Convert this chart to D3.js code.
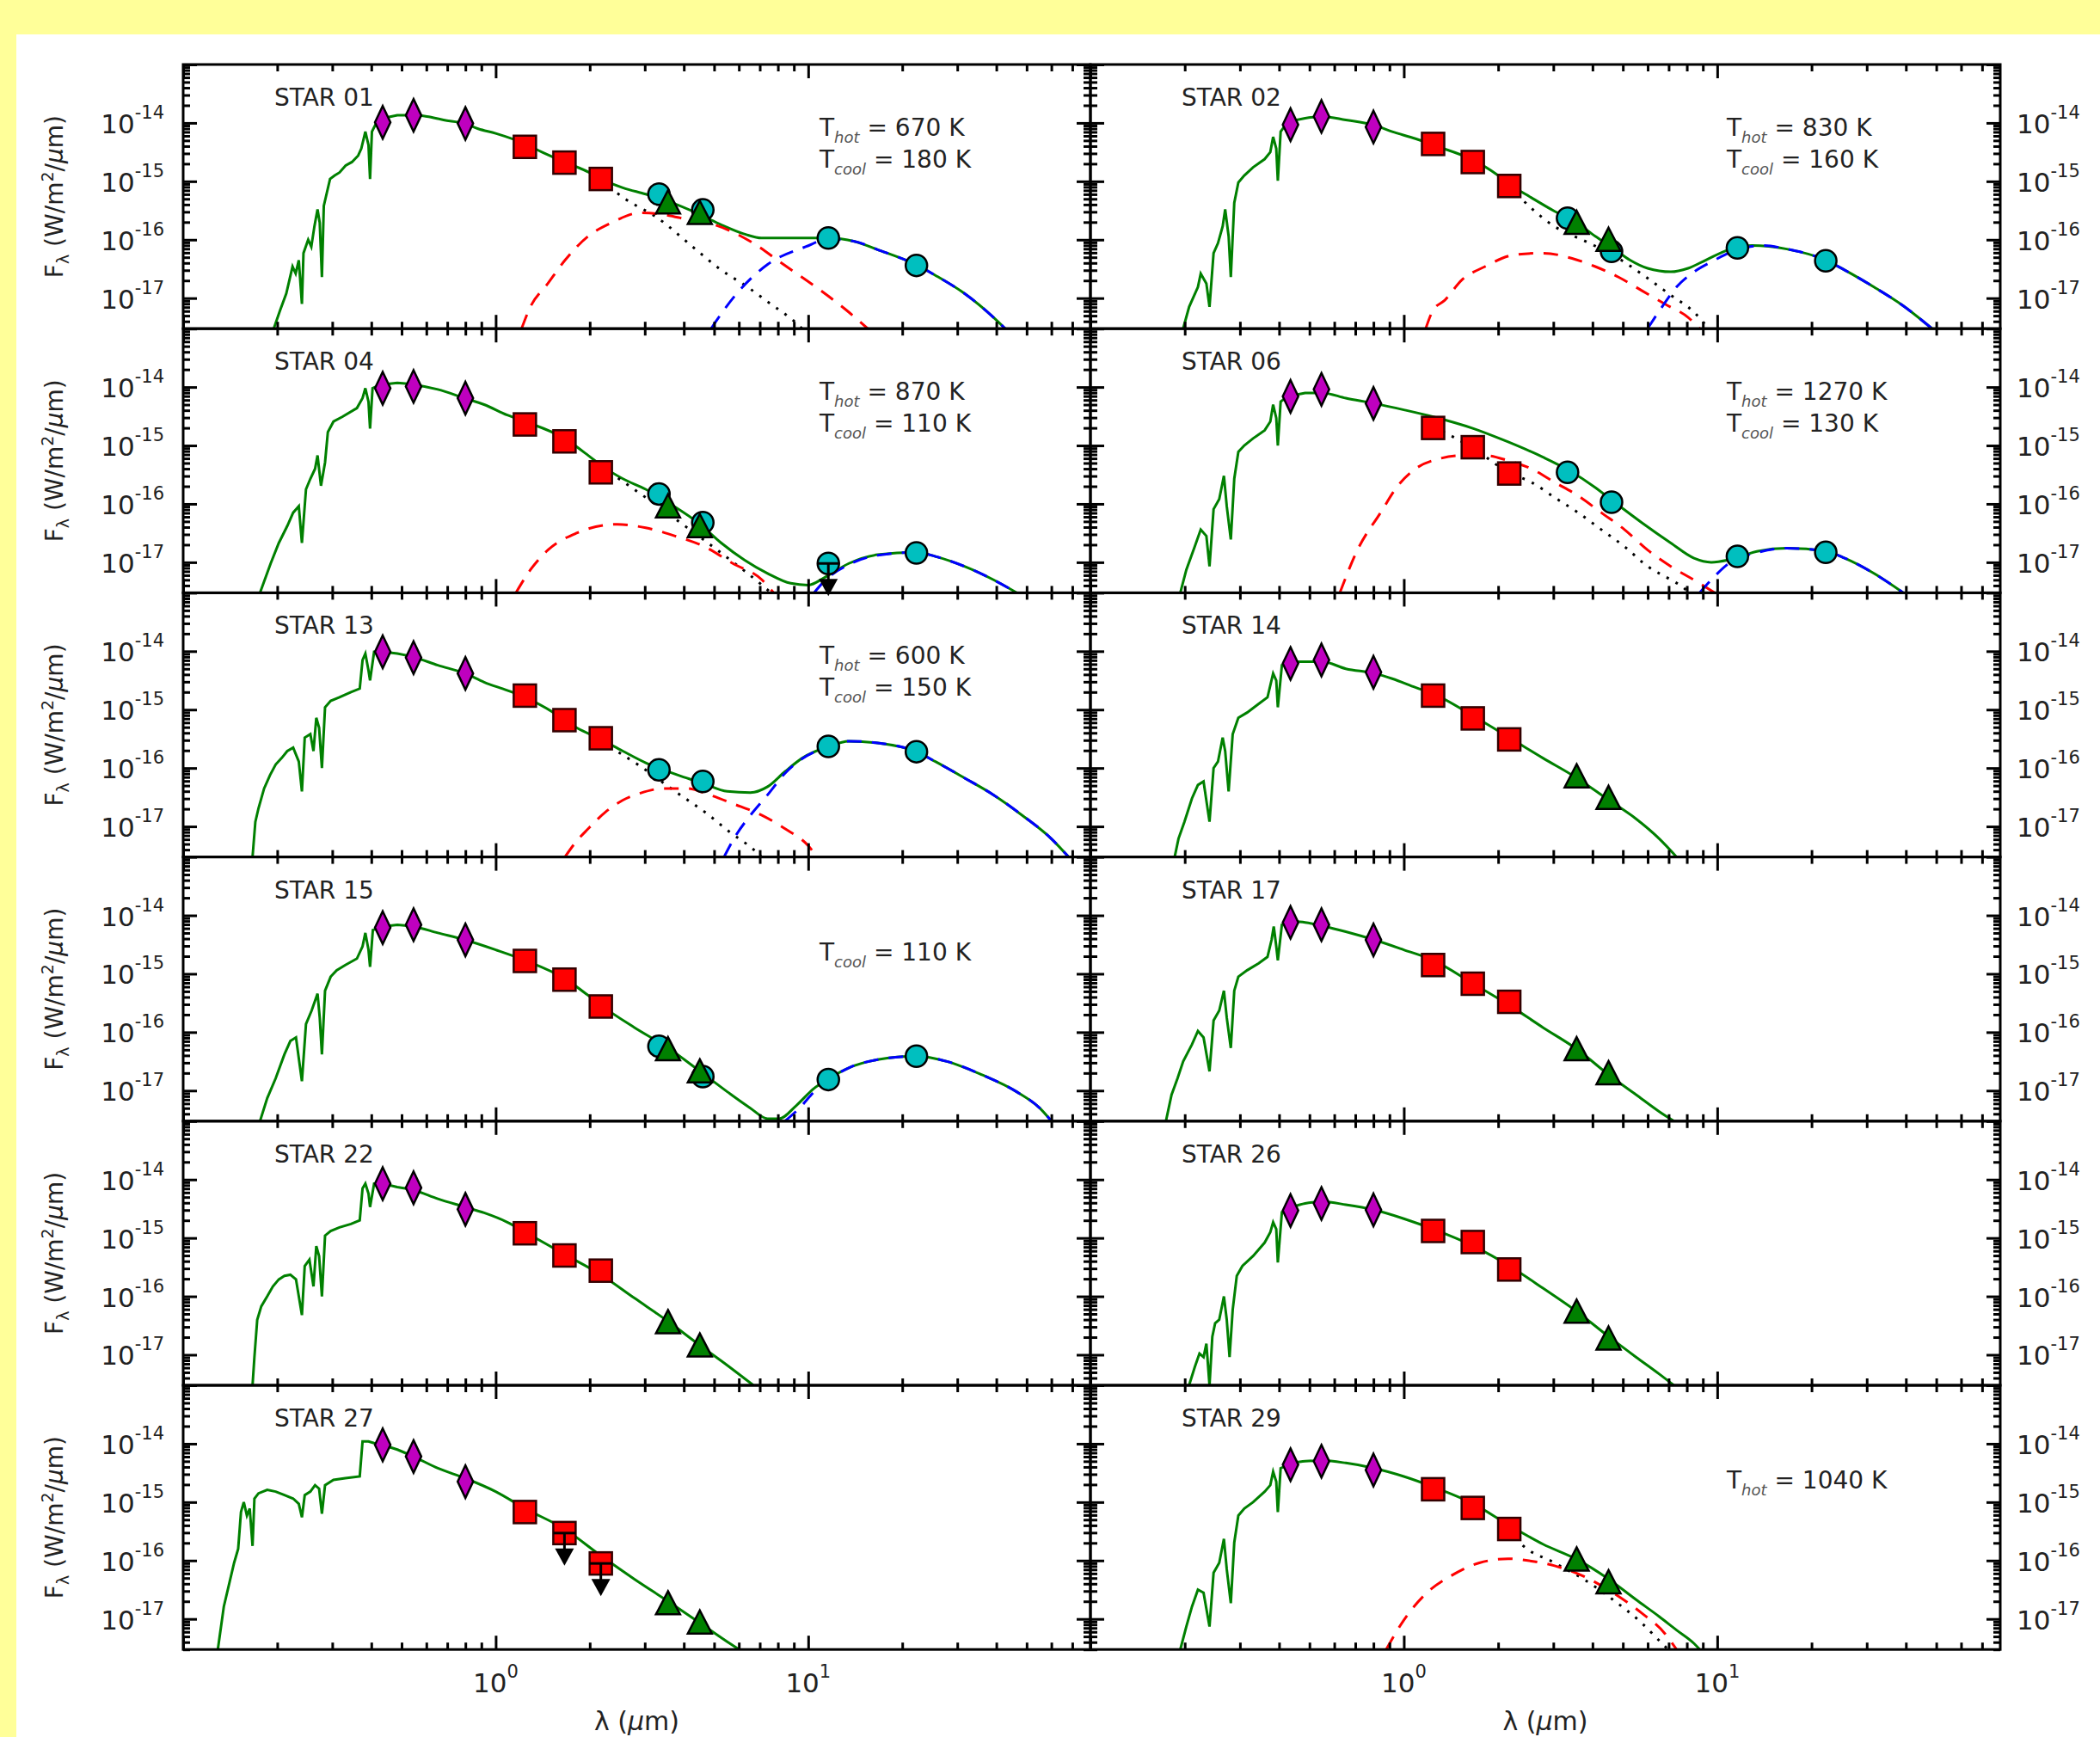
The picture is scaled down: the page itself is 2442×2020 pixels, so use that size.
<!DOCTYPE html>
<html>
<head>
<meta charset="utf-8">
<script src="https://cdn.jsdelivr.net/npm/d3@7"></script>
<style>
  body { margin: 0; background: #ffff99; }
  text { font-family: "DejaVu Sans", sans-serif; fill: #222; }
</style>
</head>
<body>
<script>
// photometric bands, wavelength in μm
let bandNames = ["B", "V", "I", "J", "H", "Ks", "W1", "W2", "W3", "W4", "IRAC1", "IRAC2"]
let bandWave = [0.435, 0.546, 0.80, 1.24, 1.66, 2.17, 3.33, 4.60, 11.6, 22.2, 3.56, 4.50]

// panels: row by row, left then right
let starNames = ["STAR 01", "STAR 02", "STAR 04", "STAR 06", "STAR 13", "STAR 14",
                 "STAR 15", "STAR 17", "STAR 22", "STAR 26", "STAR 27", "STAR 29"]
let tHot  = [670, 830, 870, 1270, 600, null, null, null, null, null, null, 1040]
let tCool = [180, 160, 110, 130, 150, null, 110, null, null, null, null, null]
let upperLimits = [["STAR 04", "W3"], ["STAR 27", "H"], ["STAR 27", "Ks"]]

// log10 F_lambda (W/m2/um) per band, null = no data
let s01Phot = [-13.99, -13.87, -14.01, -14.41, -14.68, -14.96, -15.22, -15.49, -15.97, -16.44, -15.36, -15.54]
let s02Phot = [-14.03, -13.89, -14.07, -14.36, -14.67, -15.08, -15.63, -16.20, -16.14, -16.36, -15.71, -16.00]
let s04Phot = [-14.02, -13.99, -14.19, -14.64, -14.93, -15.46, -15.83, -16.32, -17.02, -16.84, -16.04, -16.38]
let s06Phot = [-14.16, -14.04, -14.28, -14.70, -15.03, -15.48, -15.46, -15.97, -16.90, -16.83, null, null]
let s13Phot = [-14.01, -14.11, -14.38, -14.76, -15.18, -15.49, -16.03, -16.23, -15.63, -15.72, null, null]
let s14Phot = [-14.21, -14.15, -14.36, -14.76, -15.15, -15.51, null, null, null, null, -16.14, -16.51]
let s15Phot = [-14.21, -14.16, -14.42, -14.78, -15.10, -15.56, -16.24, -16.76, -16.81, -16.41, -16.29, -16.67]
let s17Phot = [-14.12, -14.16, -14.42, -14.85, -15.17, -15.48, null, null, null, null, -16.29, -16.70]
let s22Phot = [-14.07, -14.14, -14.51, -14.92, -15.30, -15.56, null, null, null, null, -16.44, -16.84]
let s26Phot = [-14.53, -14.41, -14.52, -14.88, -15.07, -15.54, null, null, null, null, -16.26, -16.72]
let s27Phot = [-14.02, -14.22, -14.65, -15.17, -15.53, -16.05, null, null, null, null, -16.73, -17.06]
let s29Phot = [-14.36, -14.30, -14.45, -14.78, -15.10, -15.46, null, null, null, null, -15.98, -16.37]

// model curves, [log10 lambda(um), log10 F_lambda]
let s01Total = [[-0.71,-17.52],[-0.69,-17.21],[-0.67,-16.92],[-0.66,-16.69],[-0.65,-16.46],[-0.64,-16.58],[-0.63,-16.35],[-0.62,-17.10],[-0.615,-16.23],[-0.60,-16.00],[-0.59,-16.12],[-0.58,-15.77],[-0.57,-15.48],[-0.563,-15.71],[-0.556,-16.64],[-0.55,-15.42],[-0.54,-15.19],[-0.53,-14.96],[-0.515,-14.90],[-0.50,-14.85],[-0.48,-14.73],[-0.46,-14.67],[-0.44,-14.56],[-0.43,-14.44],[-0.417,-14.15],[-0.407,-14.38],[-0.402,-14.96],[-0.396,-14.15],[-0.38,-13.98],[-0.36,-13.92],[-0.315,-13.87],[-0.26,-13.87],[-0.22,-13.89],[-0.167,-13.95],[-0.10,-14.01],[-0.056,-14.10],[0,-14.18],[0.094,-14.36],[0.148,-14.50],[0.22,-14.67],[0.30,-14.85],[0.337,-14.96],[0.407,-15.11],[0.48,-15.22],[0.55,-15.34],[0.654,-15.57],[0.72,-15.74],[0.80,-15.91],[0.85,-15.97],[0.944,-15.97],[1.065,-15.97],[1.148,-16.03],[1.222,-16.17],[1.346,-16.43],[1.407,-16.61],[1.50,-16.92],[1.593,-17.33],[1.63,-17.52]]
let s01Photo = [[0.337,-14.99],[0.417,-15.31],[0.519,-15.63],[0.63,-16.12],[0.722,-16.52],[0.806,-16.81],[0.88,-17.10],[0.954,-17.39],[0.98,-17.52]]
let s01Hot = [[0.083,-17.52],[0.111,-17.15],[0.167,-16.75],[0.222,-16.35],[0.296,-15.94],[0.37,-15.71],[0.463,-15.54],[0.537,-15.57],[0.611,-15.65],[0.704,-15.75],[0.815,-16.03],[0.92,-16.42],[1.03,-16.83],[1.13,-17.24],[1.19,-17.52]]
let s01Cool = [[0.69,-17.52],[0.706,-17.39],[0.767,-16.95],[0.871,-16.42],[0.992,-16.12],[1.065,-15.99],[1.148,-16.03],[1.222,-16.17],[1.346,-16.43],[1.407,-16.61],[1.50,-16.92],[1.593,-17.33],[1.63,-17.52]]

let s02Total = [[-0.704,-17.52],[-0.685,-17.15],[-0.657,-16.81],[-0.648,-16.58],[-0.63,-16.75],[-0.62,-17.15],[-0.607,-16.23],[-0.593,-16.06],[-0.578,-15.77],[-0.57,-15.48],[-0.559,-15.94],[-0.552,-16.64],[-0.541,-15.37],[-0.528,-15.02],[-0.509,-14.90],[-0.481,-14.76],[-0.444,-14.62],[-0.426,-14.50],[-0.417,-14.24],[-0.407,-14.44],[-0.402,-14.99],[-0.393,-14.15],[-0.37,-13.98],[-0.315,-13.92],[-0.26,-13.89],[-0.185,-13.95],[-0.094,-14.04],[-0.037,-14.15],[0.037,-14.27],[0.094,-14.38],[0.222,-14.64],[0.296,-14.88],[0.337,-15.05],[0.407,-15.28],[0.48,-15.51],[0.552,-15.71],[0.611,-15.94],[0.667,-16.14],[0.722,-16.35],[0.778,-16.49],[0.852,-16.55],[0.907,-16.49],[0.963,-16.35],[1.037,-16.17],[1.111,-16.10],[1.222,-16.16],[1.346,-16.35],[1.407,-16.52],[1.50,-16.81],[1.593,-17.13],[1.685,-17.52]]
let s02Photo = [[0.337,-15.10],[0.48,-15.77],[0.593,-16.06],[0.685,-16.32],[0.778,-16.66],[0.852,-16.95],[0.926,-17.24],[0.972,-17.52]]
let s02Hot = [[0.07,-17.52],[0.093,-17.21],[0.13,-17.04],[0.185,-16.69],[0.259,-16.46],[0.352,-16.26],[0.444,-16.23],[0.537,-16.32],[0.611,-16.46],[0.685,-16.64],[0.759,-16.87],[0.833,-17.10],[0.907,-17.33],[0.944,-17.52]]
let s02Cool = [[0.778,-17.52],[0.824,-17.15],[0.87,-16.81],[0.926,-16.55],[0.981,-16.38],[1.065,-16.17],[1.148,-16.10],[1.222,-16.16],[1.346,-16.35],[1.407,-16.52],[1.50,-16.81],[1.593,-17.13],[1.685,-17.52]]

let s04Total = [[-0.754,-17.52],[-0.72,-17.02],[-0.694,-16.67],[-0.667,-16.38],[-0.648,-16.15],[-0.63,-16.04],[-0.62,-16.67],[-0.607,-15.75],[-0.593,-15.57],[-0.578,-15.40],[-0.57,-15.17],[-0.559,-15.69],[-0.546,-15.29],[-0.537,-14.77],[-0.519,-14.59],[-0.491,-14.51],[-0.444,-14.36],[-0.426,-14.19],[-0.417,-14.02],[-0.407,-14.25],[-0.402,-14.71],[-0.394,-14.02],[-0.37,-13.96],[-0.315,-13.93],[-0.26,-13.96],[-0.185,-14.04],[-0.10,-14.19],[-0.037,-14.30],[0.037,-14.48],[0.094,-14.59],[0.22,-14.88],[0.296,-15.17],[0.337,-15.34],[0.407,-15.57],[0.48,-15.75],[0.552,-15.98],[0.654,-16.35],[0.722,-16.67],[0.796,-16.96],[0.87,-17.19],[0.944,-17.36],[1.0,-17.39],[1.056,-17.25],[1.13,-17.02],[1.222,-16.87],[1.346,-16.83],[1.407,-16.90],[1.50,-17.07],[1.593,-17.30],[1.667,-17.52]]
let s04Photo = [[0.337,-15.36],[0.48,-15.89],[0.611,-16.40],[0.741,-16.92],[0.852,-17.39],[0.88,-17.52]]
let s04Hot = [[0.065,-17.52],[0.111,-17.13],[0.167,-16.79],[0.259,-16.50],[0.389,-16.35],[0.48,-16.41],[0.574,-16.55],[0.667,-16.73],[0.759,-17.02],[0.852,-17.30],[0.889,-17.52]]
let s04Cool = [[1.019,-17.52],[1.056,-17.30],[1.13,-17.04],[1.222,-16.88],[1.346,-16.83],[1.407,-16.90],[1.50,-17.07],[1.593,-17.30],[1.667,-17.52]]

let s06Total = [[-0.713,-17.52],[-0.694,-17.13],[-0.667,-16.73],[-0.648,-16.44],[-0.63,-16.55],[-0.62,-17.07],[-0.607,-16.09],[-0.589,-15.92],[-0.574,-15.52],[-0.565,-16.04],[-0.552,-16.61],[-0.541,-15.57],[-0.528,-15.11],[-0.509,-15.00],[-0.481,-14.88],[-0.444,-14.74],[-0.426,-14.59],[-0.417,-14.30],[-0.407,-14.53],[-0.402,-15.00],[-0.393,-14.25],[-0.37,-14.16],[-0.315,-14.10],[-0.26,-14.10],[-0.185,-14.19],[-0.094,-14.28],[0,-14.39],[0.094,-14.51],[0.222,-14.71],[0.333,-14.94],[0.444,-15.20],[0.528,-15.43],[0.611,-15.72],[0.667,-15.95],[0.759,-16.32],[0.852,-16.67],[0.926,-16.93],[0.981,-17.00],[1.037,-16.96],[1.13,-16.81],[1.222,-16.76],[1.346,-16.81],[1.407,-16.93],[1.50,-17.19],[1.593,-17.52]]
let s06Photo = [[0.094,-14.68],[0.222,-15.05],[0.337,-15.47],[0.407,-15.63],[0.481,-15.89],[0.556,-16.15],[0.63,-16.44],[0.704,-16.73],[0.778,-17.07],[0.852,-17.30],[0.889,-17.42],[0.91,-17.52]]
let s06Hot = [[-0.204,-17.52],[-0.148,-16.79],[-0.074,-16.15],[-0.019,-15.69],[0.037,-15.40],[0.111,-15.23],[0.185,-15.17],[0.259,-15.17],[0.333,-15.26],[0.407,-15.40],[0.481,-15.63],[0.556,-15.86],[0.63,-16.15],[0.704,-16.44],[0.778,-16.79],[0.852,-17.07],[0.944,-17.36],[0.991,-17.52]]
let s06Cool = [[0.944,-17.52],[0.981,-17.30],[1.037,-17.02],[1.13,-16.83],[1.222,-16.76],[1.346,-16.81],[1.407,-16.93],[1.50,-17.19],[1.593,-17.52]]

let s13Total = [[-0.778,-17.52],[-0.769,-16.92],[-0.759,-16.69],[-0.741,-16.35],[-0.722,-16.12],[-0.704,-15.94],[-0.685,-15.83],[-0.667,-15.71],[-0.648,-15.65],[-0.63,-15.89],[-0.62,-16.40],[-0.611,-15.48],[-0.593,-15.42],[-0.583,-15.71],[-0.574,-15.14],[-0.565,-15.31],[-0.556,-16.00],[-0.546,-14.96],[-0.528,-14.85],[-0.50,-14.79],[-0.463,-14.70],[-0.435,-14.64],[-0.426,-14.15],[-0.417,-14.04],[-0.407,-14.33],[-0.402,-14.50],[-0.389,-14.01],[-0.361,-14.01],[-0.315,-14.04],[-0.263,-14.10],[-0.185,-14.24],[-0.098,-14.38],[-0.037,-14.53],[0.037,-14.67],[0.094,-14.79],[0.185,-15.05],[0.259,-15.31],[0.337,-15.51],[0.407,-15.71],[0.48,-15.91],[0.522,-16.00],[0.593,-16.14],[0.663,-16.26],[0.741,-16.40],[0.815,-16.42],[0.87,-16.32],[0.926,-16.06],[0.981,-15.83],[1.065,-15.63],[1.13,-15.54],[1.222,-15.57],[1.346,-15.72],[1.407,-15.89],[1.50,-16.17],[1.593,-16.46],[1.685,-16.81],[1.778,-17.21],[1.833,-17.52]]
let s13Photo = [[0.337,-15.55],[0.463,-15.97],[0.574,-16.40],[0.676,-16.78],[0.75,-17.10],[0.824,-17.39],[0.85,-17.52]]
let s13Hot = [[0.222,-17.52],[0.256,-17.27],[0.296,-17.04],[0.352,-16.75],[0.407,-16.55],[0.463,-16.43],[0.537,-16.35],[0.611,-16.35],[0.685,-16.46],[0.759,-16.61],[0.852,-16.81],[0.926,-17.04],[1.0,-17.33],[1.028,-17.52]]
let s13Cool = [[0.731,-17.52],[0.769,-17.15],[0.815,-16.81],[0.87,-16.46],[0.926,-16.09],[0.981,-15.84],[1.065,-15.63],[1.13,-15.54],[1.222,-15.57],[1.346,-15.72],[1.407,-15.89],[1.50,-16.17],[1.593,-16.46],[1.685,-16.81],[1.778,-17.21],[1.833,-17.52]]

let s14Total = [[-0.731,-17.52],[-0.719,-17.21],[-0.70,-16.92],[-0.676,-16.52],[-0.657,-16.29],[-0.639,-16.23],[-0.62,-16.92],[-0.607,-16.00],[-0.593,-15.89],[-0.578,-15.48],[-0.57,-15.71],[-0.559,-16.40],[-0.546,-15.42],[-0.528,-15.14],[-0.50,-15.05],[-0.463,-14.90],[-0.435,-14.79],[-0.417,-14.38],[-0.407,-14.50],[-0.402,-14.96],[-0.389,-14.24],[-0.356,-14.18],[-0.315,-14.18],[-0.26,-14.18],[-0.185,-14.30],[-0.094,-14.38],[-0.037,-14.47],[0.037,-14.62],[0.094,-14.73],[0.222,-15.11],[0.337,-15.48],[0.444,-15.83],[0.552,-16.17],[0.654,-16.55],[0.741,-16.87],[0.815,-17.21],[0.87,-17.52]]

let s15Total = [[-0.754,-17.52],[-0.731,-17.13],[-0.704,-16.79],[-0.676,-16.38],[-0.657,-16.15],[-0.639,-16.09],[-0.62,-16.84],[-0.607,-15.86],[-0.589,-15.63],[-0.57,-15.34],[-0.563,-15.75],[-0.556,-16.38],[-0.546,-15.29],[-0.528,-15.05],[-0.509,-14.94],[-0.481,-14.85],[-0.444,-14.74],[-0.426,-14.53],[-0.417,-14.30],[-0.407,-14.59],[-0.402,-14.88],[-0.393,-14.25],[-0.361,-14.19],[-0.315,-14.16],[-0.263,-14.19],[-0.185,-14.30],[-0.098,-14.42],[0,-14.59],[0.094,-14.77],[0.22,-15.08],[0.296,-15.37],[0.337,-15.54],[0.444,-15.92],[0.552,-16.27],[0.654,-16.67],[0.741,-17.02],[0.815,-17.30],[0.87,-17.48],[0.907,-17.48],[0.963,-17.25],[1.019,-16.96],[1.061,-16.81],[1.13,-16.61],[1.222,-16.47],[1.346,-16.41],[1.444,-16.50],[1.556,-16.73],[1.667,-17.02],[1.741,-17.30],[1.778,-17.52]]
let s15Cool = [[0.926,-17.52],[0.972,-17.30],[1.019,-17.02],[1.061,-16.83],[1.13,-16.61],[1.222,-16.47],[1.346,-16.41],[1.444,-16.50],[1.556,-16.73],[1.667,-17.02],[1.741,-17.30],[1.778,-17.52]]

let s17Total = [[-0.759,-17.52],[-0.741,-17.07],[-0.722,-16.79],[-0.704,-16.50],[-0.676,-16.21],[-0.657,-15.98],[-0.639,-16.09],[-0.62,-16.67],[-0.607,-15.80],[-0.589,-15.63],[-0.574,-15.29],[-0.565,-15.75],[-0.552,-16.27],[-0.541,-15.29],[-0.528,-15.05],[-0.50,-14.94],[-0.463,-14.82],[-0.435,-14.71],[-0.422,-14.42],[-0.415,-14.19],[-0.407,-14.53],[-0.402,-14.77],[-0.389,-14.16],[-0.356,-14.10],[-0.315,-14.12],[-0.26,-14.18],[-0.185,-14.28],[-0.094,-14.42],[0,-14.59],[0.094,-14.77],[0.222,-15.17],[0.337,-15.54],[0.444,-15.92],[0.552,-16.29],[0.654,-16.73],[0.741,-17.07],[0.815,-17.36],[0.861,-17.52]]

let s22Total = [[-0.778,-17.52],[-0.772,-17.04],[-0.763,-16.40],[-0.75,-16.17],[-0.731,-16.00],[-0.713,-15.83],[-0.694,-15.71],[-0.676,-15.65],[-0.657,-15.63],[-0.639,-15.71],[-0.62,-16.32],[-0.611,-15.48],[-0.596,-15.37],[-0.583,-15.83],[-0.574,-15.14],[-0.565,-15.31],[-0.556,-16.00],[-0.546,-14.96],[-0.528,-14.88],[-0.50,-14.82],[-0.463,-14.76],[-0.435,-14.70],[-0.426,-14.15],[-0.417,-14.07],[-0.407,-14.24],[-0.402,-14.47],[-0.389,-14.07],[-0.361,-14.07],[-0.315,-14.13],[-0.263,-14.18],[-0.185,-14.33],[-0.098,-14.47],[-0.037,-14.57],[0.037,-14.73],[0.094,-14.90],[0.22,-15.28],[0.337,-15.63],[0.444,-16.03],[0.552,-16.43],[0.654,-16.84],[0.741,-17.18],[0.824,-17.52]]

let s26Total = [[-0.685,-17.52],[-0.667,-17.21],[-0.652,-16.98],[-0.639,-17.04],[-0.63,-16.81],[-0.62,-17.52],[-0.611,-16.69],[-0.602,-16.46],[-0.589,-16.40],[-0.574,-16.00],[-0.565,-16.40],[-0.556,-17.04],[-0.546,-16.23],[-0.533,-15.65],[-0.515,-15.48],[-0.481,-15.31],[-0.444,-15.08],[-0.426,-14.90],[-0.417,-14.73],[-0.407,-14.85],[-0.402,-15.42],[-0.389,-14.56],[-0.356,-14.47],[-0.315,-14.41],[-0.26,-14.38],[-0.185,-14.43],[-0.094,-14.52],[0,-14.67],[0.094,-14.85],[0.222,-15.14],[0.337,-15.48],[0.444,-15.86],[0.552,-16.26],[0.654,-16.69],[0.741,-17.04],[0.815,-17.33],[0.861,-17.52]]

let s27Total = [[-0.889,-17.52],[-0.87,-16.79],[-0.852,-16.38],[-0.837,-16.04],[-0.824,-15.80],[-0.815,-15.17],[-0.806,-15.00],[-0.796,-15.23],[-0.787,-15.11],[-0.778,-15.75],[-0.772,-14.94],[-0.759,-14.85],[-0.731,-14.79],[-0.704,-14.82],[-0.676,-14.88],[-0.648,-14.94],[-0.63,-15.03],[-0.62,-15.26],[-0.611,-14.88],[-0.593,-14.82],[-0.578,-14.71],[-0.565,-14.77],[-0.556,-15.20],[-0.546,-14.71],[-0.519,-14.62],[-0.481,-14.59],[-0.435,-14.56],[-0.426,-13.96],[-0.407,-13.96],[-0.389,-13.99],[-0.361,-14.02],[-0.315,-14.10],[-0.263,-14.22],[-0.185,-14.42],[-0.098,-14.59],[0,-14.82],[0.094,-15.11],[0.22,-15.46],[0.337,-15.92],[0.444,-16.32],[0.552,-16.70],[0.654,-17.07],[0.741,-17.39],[0.778,-17.52]]

let s29Total = [[-0.713,-17.52],[-0.694,-17.13],[-0.676,-16.79],[-0.657,-16.50],[-0.639,-16.55],[-0.62,-17.13],[-0.607,-16.21],[-0.589,-16.04],[-0.574,-15.63],[-0.565,-16.15],[-0.552,-16.73],[-0.541,-15.69],[-0.528,-15.23],[-0.509,-15.11],[-0.481,-15.00],[-0.444,-14.82],[-0.426,-14.71],[-0.417,-14.48],[-0.407,-14.65],[-0.402,-15.17],[-0.393,-14.42],[-0.356,-14.33],[-0.315,-14.30],[-0.26,-14.29],[-0.185,-14.33],[-0.094,-14.42],[0,-14.56],[0.094,-14.74],[0.222,-15.03],[0.337,-15.40],[0.444,-15.72],[0.552,-15.98],[0.654,-16.32],[0.741,-16.67],[0.815,-16.96],[0.87,-17.19],[0.926,-17.42],[0.944,-17.52]]
let s29Photo = [[0.337,-15.47],[0.37,-15.69],[0.481,-16.04],[0.574,-16.32],[0.667,-16.67],[0.759,-17.07],[0.824,-17.42],[0.843,-17.52]]
let s29Hot = [[-0.056,-17.52],[0,-17.02],[0.074,-16.55],[0.148,-16.27],[0.241,-16.04],[0.333,-15.97],[0.407,-16.01],[0.481,-16.09],[0.574,-16.27],[0.667,-16.55],[0.759,-16.90],[0.833,-17.25],[0.87,-17.52]]

let panels = [
  { phot: s01Phot, total: s01Total, photo: s01Photo, hot: s01Hot, cool: s01Cool },
  { phot: s02Phot, total: s02Total, photo: s02Photo, hot: s02Hot, cool: s02Cool },
  { phot: s04Phot, total: s04Total, photo: s04Photo, hot: s04Hot, cool: s04Cool },
  { phot: s06Phot, total: s06Total, photo: s06Photo, hot: s06Hot, cool: s06Cool },
  { phot: s13Phot, total: s13Total, photo: s13Photo, hot: s13Hot, cool: s13Cool },
  { phot: s14Phot, total: s14Total },
  { phot: s15Phot, total: s15Total, cool: s15Cool },
  { phot: s17Phot, total: s17Total },
  { phot: s22Phot, total: s22Total },
  { phot: s26Phot, total: s26Total },
  { phot: s27Phot, total: s27Total },
  { phot: s29Phot, total: s29Total, photo: s29Photo, hot: s29Hot }
]

// ---- layout ----
let W = 2442, H = 2020
let colEdges = [[213, 1268], [1268, 2326]]
let plotTop = 75, rowH = 307.2
let nRows = 6
let noisyEnd = -0.36   // short of this the model spectrum is jagged, drawn straight

let svg = d3.select("body").append("svg").attr("width", W).attr("height", H)
svg.append("rect").attr("width", W).attr("height", H).attr("fill", "#ffff99")
svg.append("rect").attr("x", 19).attr("y", 40).attr("width", W - 19).attr("height", H - 40).attr("fill", "#fff")

let xMajor = [0.1, 1, 10]
let xMinor = []
xMajor.forEach(d => d3.range(2, 10).forEach(k => { if (k * d < 80) xMinor.push(k * d) }))
let yMajor = [1e-17, 1e-16, 1e-15, 1e-14, 1e-13]
let yMinor = []
d3.range(-18, -13).forEach(e => d3.range(2, 10).forEach(k => {
  let v = k * Math.pow(10, e)
  if (v >= 3e-18 && v <= 1e-13) yMinor.push(v)
}))

let markerKind = b => b < 3 ? "diamond" : b < 6 ? "square" : b < 10 ? "circle" : "triangle"

function ticks (g, axis, tr, len) {
  g.append("g").attr("transform", tr)
    .call(axis.tickSize(-len).tickSizeOuter(0).tickFormat(""))
    .call(a => a.select(".domain").remove())
    .selectAll("line").attr("stroke", "#000").attr("stroke-width", 3)
}

function powText (g, px, py, base, exp, anchor, size, supSize, supDy) {
  let t = g.append("text").attr("x", px).attr("y", py).attr("text-anchor", anchor).attr("font-size", size)
  t.append("tspan").text(base)
  t.append("tspan").attr("dy", supDy).attr("font-size", supSize).text(exp)
}

function tempText (g, px, py, sub, value) {
  let t = g.append("text").attr("x", px).attr("y", py).attr("font-size", 28)
  t.append("tspan").text("T")
  t.append("tspan").attr("dy", 8).attr("font-size", 18).attr("font-style", "italic").attr("fill", "#555").text(sub)
  t.append("tspan").attr("dy", -8).text(" = " + value + " K")
}

panels.forEach(function (p, i) {
  let row = Math.floor(i / 2), col = i % 2
  let [x0, x1] = colEdges[col]
  let y0 = plotTop + row * rowH, y1 = y0 + rowH
  let x = d3.scaleLog().domain([0.1, 80]).range([x0, x1])
  let y = d3.scaleLog().domain([3e-18, 1e-13]).range([y1, y0])
  let px = d => x(Math.pow(10, d[0])), py = d => y(Math.pow(10, d[1]))
  let line = d3.line().x(px).y(py).curve(d3.curveMonotoneX)
  let jagged = d3.line().x(px).y(py)

  let g = svg.append("g")
  g.append("clipPath").attr("id", "clip" + i)
    .append("rect").attr("x", x0).attr("y", y0).attr("width", x1 - x0).attr("height", rowH)
  let curves = g.append("g").attr("clip-path", `url(#clip${i})`)

  // total model: noisy photosphere part straight, the rest smooth
  let k = p.total.findIndex(d => d[0] > noisyEnd)
  curves.append("path").attr("d", jagged(p.total.slice(0, k + 1)) + line(p.total.slice(k)).replace(/^M/, "L"))
    .attr("fill", "none").attr("stroke", "#008000").attr("stroke-width", 3).attr("stroke-linejoin", "miter")
  if (p.photo) curves.append("path").attr("d", line(p.photo)).attr("fill", "none")
    .attr("stroke", "#000").attr("stroke-width", 3).attr("stroke-dasharray", "3,9")
  if (p.hot) curves.append("path").attr("d", line(p.hot)).attr("fill", "none")
    .attr("stroke", "#ff0000").attr("stroke-width", 3).attr("stroke-dasharray", "17,12")
  if (p.cool) curves.append("path").attr("d", line(p.cool)).attr("fill", "none")
    .attr("stroke", "#0000ff").attr("stroke-width", 3).attr("stroke-dasharray", "17,12")

  // photometry
  let marks = g.append("g")
  p.phot.forEach(function (v, b) {
    if (v === null) return
    let m = marks.append("g").attr("transform", `translate(${x(bandWave[b])},${y(Math.pow(10, v))})`)
    let kind = markerKind(b)
    let half = 13
    if (kind === "diamond") {
      m.append("path").attr("d", "M0,-19L9,0L0,19L-9,0Z").attr("fill", "#bf00bf").attr("stroke", "#000").attr("stroke-width", 2.5)
      half = 9
    } else if (kind === "square") {
      m.append("rect").attr("x", -13).attr("y", -13).attr("width", 26).attr("height", 26)
        .attr("fill", "#ff0000").attr("stroke", "#300").attr("stroke-width", 2.5)
    } else if (kind === "circle") {
      m.append("circle").attr("r", 12.5).attr("fill", "#00bfbf").attr("stroke", "#000").attr("stroke-width", 2.5)
    } else {
      m.append("path").attr("d", "M0,-14L14,13L-14,13Z").attr("fill", "#008000").attr("stroke", "#000").attr("stroke-width", 2.5)
    }
    let isLimit = upperLimits.some(u => u[0] === starNames[i] && u[1] === bandNames[b])
    if (isLimit) {
      m.append("line").attr("x1", -half).attr("x2", half).attr("stroke", "#000").attr("stroke-width", 3)
      m.append("line").attr("y1", 0).attr("y2", 24).attr("stroke", "#000").attr("stroke-width", 3)
      m.append("path").attr("d", "M-11,18L11,18L0,38Z").attr("fill", "#000")
    }
  })

  // ticks, all four sides pointing inward
  ticks(g, d3.axisBottom(x).tickValues(xMajor), `translate(0,${y1})`, 16)
  ticks(g, d3.axisBottom(x).tickValues(xMinor), `translate(0,${y1})`, 8)
  ticks(g, d3.axisTop(x).tickValues(xMajor), `translate(0,${y0})`, 16)
  ticks(g, d3.axisTop(x).tickValues(xMinor), `translate(0,${y0})`, 8)
  ticks(g, d3.axisLeft(y).tickValues(yMajor), `translate(${x0},0)`, 16)
  ticks(g, d3.axisLeft(y).tickValues(yMinor), `translate(${x0},0)`, 8)
  ticks(g, d3.axisRight(y).tickValues(yMajor), `translate(${x1},0)`, 16)
  ticks(g, d3.axisRight(y).tickValues(yMinor), `translate(${x1},0)`, 8)
  g.append("rect").attr("x", x0).attr("y", y0).attr("width", x1 - x0).attr("height", rowH)
    .attr("fill", "none").attr("stroke", "#000").attr("stroke-width", 3)

  // texts
  g.append("text").attr("x", x0 + 106).attr("y", y0 + 48).attr("font-size", 28).text(starNames[i])
  if (tHot[i] !== null && tCool[i] !== null) {
    tempText(g, x0 + 740, y0 + 83, "hot", tHot[i])
    tempText(g, x0 + 740, y0 + 120, "cool", tCool[i])
  } else if (tHot[i] !== null) {
    tempText(g, x0 + 740, y0 + 120, "hot", tHot[i])
  } else if (tCool[i] !== null) {
    tempText(g, x0 + 740, y0 + 120, "cool", tCool[i])
  }

  ;[-14, -15, -16, -17].forEach(function (e) {
    let ty = y(Math.pow(10, e)) + 12
    if (col === 0) powText(g, x0 - 22, ty, "10", "-" + (-e), "end", 31, 21, -17)
    else powText(g, x1 + 19, ty, "10", "-" + (-e), "start", 31, 21, -17)
  })

  if (col === 0) {
    let yl = g.append("text").attr("transform", `translate(73,${(y0 + y1) / 2})rotate(-90)`)
      .attr("text-anchor", "middle").attr("font-size", 28)
    yl.append("tspan").text("F")
    yl.append("tspan").attr("dy", 7).attr("font-size", 19).text("λ")
    yl.append("tspan").attr("dy", -7).text(" (W/m")
    yl.append("tspan").attr("dy", -11).attr("font-size", 19).text("2")
    yl.append("tspan").attr("dy", 11).text("/")
    yl.append("tspan").attr("font-style", "italic").text("μ")
    yl.append("tspan").text("m)")
  }

  if (row === nRows - 1) {
    ;[[1, "0"], [10, "1"]].forEach(function (t) {
      powText(g, x(t[0]), y1 + 50, "10", t[1], "middle", 31, 21, -17)
    })
    let xl = g.append("text").attr("x", (x0 + x1) / 2).attr("y", 2012).attr("text-anchor", "middle").attr("font-size", 30)
    xl.append("tspan").text("λ (")
    xl.append("tspan").attr("font-style", "italic").text("μ")
    xl.append("tspan").text("m)")
  }
})
</script>
</body>
</html>
